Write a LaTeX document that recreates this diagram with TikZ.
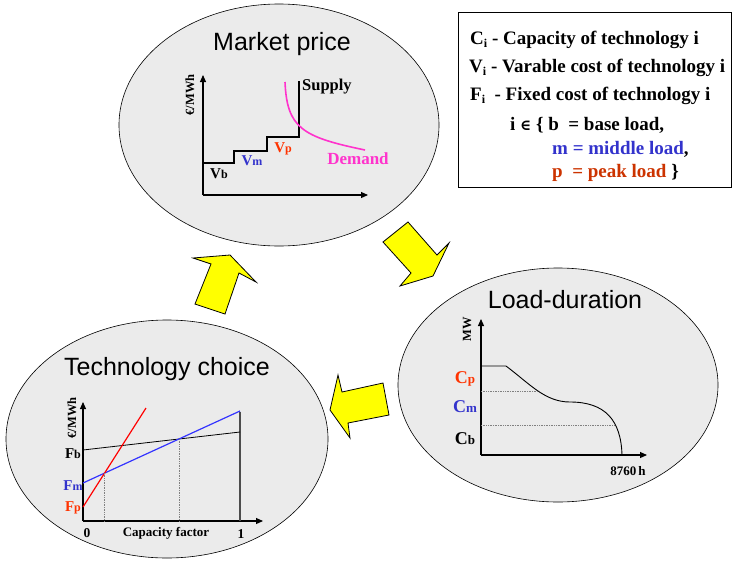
\documentclass[tikz,border=0pt]{standalone}
\usepackage{fontspec}
\setmainfont{Liberation Serif}
\newfontfamily\hel{Liberation Sans}
\newfontfamily\dvs{DejaVu Serif}
\usetikzlibrary{arrows.meta,shapes.geometric}
\definecolor{bub}{HTML}{EBEBEB}
\definecolor{lblue}{HTML}{3333CC}
\definecolor{lineblue}{HTML}{3333FF}
\definecolor{lred}{HTML}{FF3300}
\definecolor{dred}{HTML}{CC3300}
\definecolor{mag}{HTML}{FF33CC}
\definecolor{yel}{HTML}{FFFF00}
\newcommand{\fs}[1]{\fontsize{#1}{#1}\selectfont}
\begin{document}
\begin{tikzpicture}[x=1pt,y=-1pt,
  bubble/.style={ellipse,draw=black,fill=bub,line width=0.6pt,inner sep=0pt,outer sep=0pt},
  title/.style={font=\hel\fs{25},inner sep=0pt},
  axis/.style={line width=1.1pt,-{Triangle[length=7pt,width=6pt]}},
  lbl/.style={font=\bfseries\fs{15},inner sep=0pt},
  boxtxt/.style={font=\bfseries\fs{19},inner sep=0pt,anchor=base west},
  blockarrow/.style={draw=black,fill=yel,line width=0.8pt,line join=miter},
]
\useasboundingbox (0,0) rectangle (733,560);

% ---------- bubbles ----------
\node[bubble,minimum width=320pt,minimum height=242pt] (mp) at (279,125) {};
\node[bubble,minimum width=320pt,minimum height=234pt] (ld) at (558,385) {};
\node[bubble,minimum width=322pt,minimum height=238pt] (tc) at (167,439) {};

\node[title] (mpt) at (282,44) {Market price};
\node[title] (ldt) at (565,300) {Load-duration};
\node[title] (tct) at (167,369) {Technology choice};

% ---------- Market price chart ----------
\coordinate (mpo) at (203,195);
\coordinate (mpy) at (203,75);
\coordinate (mpx) at (368,195);
\draw[axis] (mpo) -- (mpy);
\draw[axis] (mpo) -- (mpx);
\draw[line width=1.6pt] (203,163) -- (234,163) -- (234,151) -- (267,151) -- (267,137) -- (299,137) -- (299,81);
\draw[mag,line width=1.6pt] (285,82) .. controls (287,128) and (302,137) .. (365,150);
\node[lbl,font=\bfseries\fs{16.5},anchor=west] (sup) at (302,87) {Supply};
\node[lbl,font=\bfseries\fs{17},text=mag] (dem) at (358,159) {Demand};
\node[lbl,rotate=90,font=\bfseries\fs{12.5}] (mpe) at (190,95) {€/MWh};
\node[lbl] (vb) at (219,174) {V{\fs{12}b}};
\node[lbl,text=lblue] (vm) at (252,161) {V{\fs{12}m}};
\node[lbl,text=lred] (vp) at (283,149) {V{\fs{12}p}};

% ---------- Load-duration chart ----------
\coordinate (ldo) at (481,455);
\coordinate (ldy) at (481,319);
\coordinate (ldx) at (647,455);
\draw[axis] (ldo) -- (ldy);
\draw[axis] (ldo) -- (ldx);
\draw[line width=0.9pt] (481,366) -- (506,366) .. controls (530,384) and (545,402) .. (570,402) .. controls (605,402) and (621,420) .. (622,455);
\draw[densely dotted,gray,line width=0.7pt] (481,391) -- (538,391);
\draw[densely dotted,gray,line width=0.7pt] (481,425) -- (615,425);
\node[lbl,rotate=90,font=\bfseries\fs{12.5}] (mw) at (467,329) {MW};
\node[lbl,text=lred,anchor=base] (cp) at (465,383) {{\fs{18}C}{\fs{13}p}};
\node[lbl,text=lblue,anchor=base] (cm) at (465,412) {{\fs{18}C}{\fs{13}m}};
\node[lbl,anchor=base] (cb) at (465,444) {{\fs{18}C}{\fs{13}b}};
\node[lbl,font=\bfseries\fs{13}] (h8760) at (628,471) {8760\,h};

% ---------- Technology choice chart ----------
\coordinate (tco) at (83,521);
\coordinate (tcy) at (83,402);
\coordinate (tcx) at (263,521);
\draw[axis] (tco) -- (tcy);
\draw[axis] (tco) -- (tcx);
\draw[line width=1.5pt,black!70] (240,412) -- (240,521);
\draw[line width=0.8pt] (83,450) -- (240,432);
\draw[lineblue,line width=1.2pt] (83,483) -- (240,411);
\draw[red,line width=1.2pt] (83,507) -- (146,408);
\draw[densely dotted,gray,line width=0.7pt] (104.6,473) -- (104.6,521);
\draw[densely dotted,gray,line width=0.7pt] (178.9,439) -- (178.9,521);
\node[lbl,rotate=90,font=\bfseries\fs{12.5}] (tce) at (72,418) {€/MWh};
\node[lbl] (fb) at (73,454) {F{\fs{12}b}};
\node[lbl,text=lblue] (fm) at (73,486) {F{\fs{12}m}};
\node[lbl,text=lred] (fp) at (73,508) {F{\fs{12}p}};
\node[lbl,font=\bfseries\fs{13.5}] (zero) at (87,533) {0};
\node[lbl,font=\bfseries\fs{13}] (cf) at (166,533) {Capacity factor};
\node[lbl,font=\bfseries\fs{13.5}] (one) at (241,534) {1};

% ---------- yellow arrows ----------
\draw[blockarrow] (195,304) -- (225,314) -- (239,273) -- (256,282) -- (230,255) -- (193,258) -- (211,264) -- cycle;
\draw[blockarrow] (383,242) -- (408,222) -- (437,255) -- (449,243) -- (433,276) -- (400,286) -- (411,273) -- cycle;
\draw[blockarrow] (330,410) -- (338,375) -- (342,392) -- (383,383) -- (389,415) -- (348,423) -- (350,438) -- cycle;

% ---------- legend box ----------
\node[draw=black,line width=1.2pt,minimum width=273pt,minimum height=175pt,inner sep=0pt,anchor=north west] (legend) at (458,12) {};
\node[boxtxt] (l1) at (470,44) {C\raisebox{-3.5pt}{\fs{12}i} - Capacity of technology i};
\node[boxtxt] (l2) at (469,72) {V\raisebox{-3.5pt}{\fs{12}i} - Varable cost of technology i};
\node[boxtxt] (l3) at (470,100) {F\raisebox{-3.5pt}{\fs{12}i}\ \ - Fixed cost of technology i};
\node[boxtxt] (l4) at (510,130) {i {\dvs\fs{15}∈} \{ b\ \ = base load,};
\node[boxtxt,text=lblue] (l5) at (552,154) {m = middle load\textcolor{black}{,}};
\node[boxtxt,text=dred] (l6) at (552,177) {p\ \ = peak load \textcolor{black}{\}}};
\end{tikzpicture}
\end{document}
